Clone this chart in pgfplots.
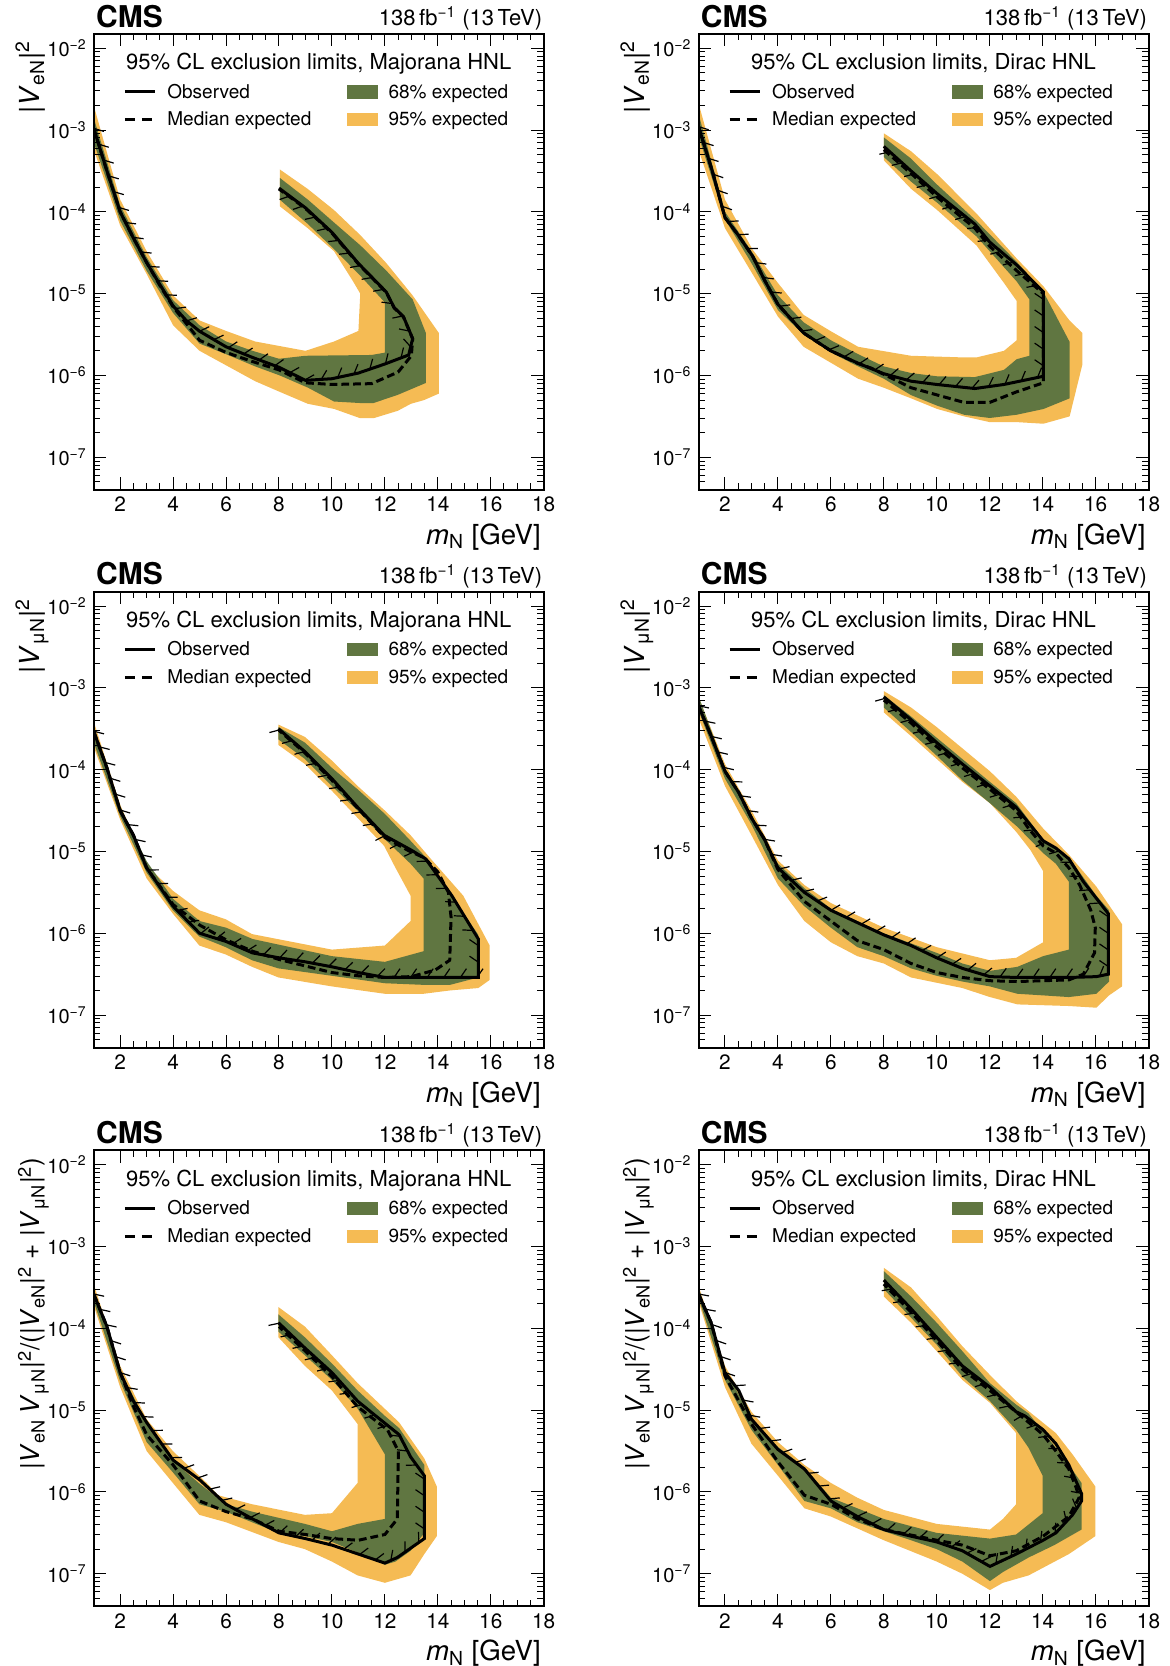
\documentclass[border=0pt]{standalone}
\usepackage{fontspec}
\setmainfont{TeX Gyre Heros}
\usepackage{pgfplots}
\pgfplotsset{compat=1.18}
\usetikzlibrary{decorations.markings}

\definecolor{band68}{HTML}{607641}
\definecolor{band95}{HTML}{F5BB54}

\tikzset{
  hatchline/.style={postaction={decorate, decoration={markings,
      mark=between positions 0 and 1 step 8.3pt with {\draw[black, line width=0.6pt, solid] (0pt,0pt) -- (3pt,4.4pt);}}}},
}

\pgfplotsset{
  band95/.style={draw=none, fill=band95, forget plot},
  band68/.style={draw=none, fill=band68, forget plot},
  median/.style={black, line width=1.5pt, dash pattern=on 3.9pt off 2pt, forget plot},
  observed/.style={black, line width=1.5pt, forget plot, hatchline},
  hnl/.style={
    scale only axis, width=225pt, height=228pt,
    xmin=1, xmax=18, ymin=4e-8, ymax=1.5e-2,
    axis on top,
    axis line style={line width=1pt},
    tick style={black, line width=0.5pt},
    major tick length=6.3pt, minor tick length=3.2pt,
    xtick={2,4,...,18}, minor x tick num=3,
    ytick={1e-7,1e-6,1e-5,1e-4,1e-3,1e-2},
    yticklabels={10\textsuperscript{−7},10\textsuperscript{−6},10\textsuperscript{−5},10\textsuperscript{−4},10\textsuperscript{−3},10\textsuperscript{−2}},
    minor ytick={5e-8,6e-8,7e-8,8e-8,9e-8,2e-7,3e-7,4e-7,5e-7,6e-7,7e-7,8e-7,9e-7,2e-6,3e-6,4e-6,5e-6,6e-6,7e-6,8e-6,9e-6,2e-5,3e-5,4e-5,5e-5,6e-5,7e-5,8e-5,9e-5,2e-4,3e-4,4e-4,5e-4,6e-4,7e-4,8e-4,9e-4,2e-3,3e-3,4e-3,5e-3,6e-3,7e-3,8e-3,9e-3},
    /pgf/number format/assume math mode=true,
    tick label style={font=\fontsize{10}{12}\selectfont},
    xticklabel style={font=\fontsize{10.4}{12}\selectfont},
    xlabel={\textit{m}\textsubscript{N} [GeV]},
    label style={font=\fontsize{13.8}{15}\selectfont},
    xlabel style={at={(axis description cs:1,0)}, anchor=base east, inner sep=0pt, yshift=-27.2pt, xshift=-1.3pt},
    ylabel style={at={(axis description cs:-0.12,1)}, anchor=base east},
    legend columns=2, legend cell align=left,
    legend style={draw=none, fill=none, inner sep=0pt, outer sep=0pt,
      at={(0.066,0.893)}, anchor=north west,
      font=\fontsize{9.5}{11}\selectfont, row sep=4.7pt,
      nodes={inner sep=0pt},
      /tikz/every odd column/.style={column sep=5.5pt},
      /tikz/every even column/.style={column sep=0pt}},
  },
  longlabel/.style={ylabel style={font=\fontsize{13}{15}\selectfont}},
}

\newcommand{\hnllegend}{%
  \addlegendimage{legend image code/.code={\draw[black, line width=1.5pt] (0pt,0pt) -- (15pt,0pt);}}
  \addlegendentry{\makebox[90pt][l]{\strut Observed}}
  \addlegendimage{legend image code/.code={\fill[band68] (0pt,-3.1pt) rectangle (14.7pt,3.1pt);}}
  \addlegendentry{\strut 68\% expected}
  \addlegendimage{legend image code/.code={\draw[black, line width=1.5pt, dash pattern=on 5.3pt off 3.2pt] (0pt,0pt) -- (15pt,0pt);}}
  \addlegendentry{\makebox[90pt][l]{\strut Median expected}}
  \addlegendimage{legend image code/.code={\fill[band95] (0pt,-3.1pt) rectangle (14.7pt,3.1pt);}}
  \addlegendentry{\strut 95\% expected}
}

% CMS label, luminosity and legend header around a named axis
\newcommand{\hnltext}[2]{%
  \node[anchor=base west, inner sep=0pt, font=\bfseries\fontsize{15}{17}\selectfont, xshift=1pt, yshift=3.4pt] at (#1.north west) {CMS};
  \node[anchor=base east, inner sep=0pt, font=\fontsize{11}{13}\selectfont, xshift=-0.6pt, yshift=4pt] at (#1.north east) {138\,fb\textsuperscript{−1} (13\,TeV)};
  \node[anchor=base, inner sep=0pt, font=\fontsize{11}{13}\selectfont, yshift=-18pt] at (#1.north) {95\% CL exclusion limits, #2 HNL};
}

\begin{document}
\begin{tikzpicture}
\useasboundingbox (0pt,0pt) rectangle (584.5pt,-833pt);

% ---- Majorana, V_eN
\begin{semilogyaxis}[hnl, name=p1, at={(46.85pt,-16.9pt)}, anchor=north west,
  ylabel={|\textit{V}\textsubscript{eN}|\textsuperscript{2}}]
\addplot[band95] coordinates {(1,2.0e-3) (2,1.41e-4) (3,3.3e-5) (4,9.5e-6) (5,4.7e-6) (6,3.5e-6) (7.1,2.6e-6) (9,2.0e-6) (10.08,2.6e-6) (11,3.5e-6) (11.07,1.0e-5) (10.8,1.41e-5) (10.08,3.3e-5) (9.09,6.3e-5) (8.03,1.17e-4) (8.03,3.3e-4) (9.09,1.9e-4) (10.08,1.05e-4) (11.07,5.2e-5) (12.06,2.35e-5) (13.05,9.5e-6) (14.04,3.3e-6) (14.04,6.0e-7) (13.48,5.0e-7) (12.98,4.5e-7) (12.49,3.7e-7) (11.57,3.0e-7) (11.07,3.0e-7) (10.08,3.9e-7) (9.09,4.5e-7) (8.03,6.3e-7) (7.1,8.5e-7) (5,2.0e-6) (4,4.1e-6) (3,1.74e-5) (2,6.8e-5) (1,5.8e-4)};
\addplot[band68] coordinates {(1,1.41e-3) (2,1.2e-4) (3,2.8e-5) (4,8.3e-6) (5,4.1e-6) (6,2.6e-6) (7,2.0e-6) (8,1.6e-6) (9,1.74e-6) (11.5,1.78e-6) (12,1.9e-6) (12,7.8e-6) (11.07,1.66e-5) (10.08,3.5e-5) (9.09,7.1e-5) (8.03,1.41e-4) (8.03,2.6e-4) (9.09,1.41e-4) (10.08,7.4e-5) (11.07,3.9e-5) (12.06,1.9e-5) (13.05,8.5e-6) (13.55,3.3e-6) (13.55,8.1e-7) (12.49,5.8e-7) (11.57,4.6e-7) (11.07,4.6e-7) (10.08,4.8e-7) (9.09,7.1e-7) (8.03,1.0e-6) (7.1,1.29e-6) (6,1.82e-6) (5,2.45e-6) (4,5.8e-6) (3,1.9e-5) (2,7.8e-5) (1,7.1e-4)};
\addplot[median] coordinates {(1,1.05e-3) (1.5,3.16e-4) (2,1e-4) (2.5,4.79e-5) (3,2.4e-5) (3.5,1.26e-5) (4,6.9e-6) (5,2.69e-6) (6,1.91e-6) (7,1.48e-6) (8,1.17e-6) (9,8.13e-7) (10,7.76e-7) (11.5,7.94e-7) (12.5,1.1e-6) (13,1.74e-6) (13.05,2.8e-6) (12.7,5.2e-6) (12.35,6.7e-6) (12.05,1.04e-5) (11,2.3e-5) (10,5.5e-5) (9,1.1e-4) (8,1.9e-4)};
\addplot[observed] coordinates {(1,1.05e-3) (1.5,3.16e-4) (2,1e-4) (2.5,4.79e-5) (3,2.4e-5) (3.5,1.29e-5) (4,7.08e-6) (4.5,4.68e-6) (5,3.47e-6) (6,2.24e-6) (7,1.66e-6) (8,1.26e-6) (9,8.71e-7) (10,9.12e-7) (11,1.07e-6) (12,1.38e-6) (12.9,1.78e-6) (13.05,2.82e-6) (12.7,5.25e-6) (12.35,6.76e-6) (12.05,1.05e-5) (11,2.34e-5) (10,5.62e-5) (9,1.12e-4) (8,1.95e-4)};
\hnllegend
\end{semilogyaxis}
\hnltext{p1}{Majorana}

% ---- Dirac, V_eN
\begin{semilogyaxis}[hnl, name=p2, at={(349.25pt,-16.9pt)}, anchor=north west,
  ylabel={|\textit{V}\textsubscript{eN}|\textsuperscript{2}}]
\addplot[band95] coordinates {(1,2.14e-3) (2,1.41e-4) (3.04,3.47e-5) (4,1.35e-5) (4.97,5.5e-6) (6,3.47e-6) (7.03,2.24e-6) (9.03,1.74e-6) (11.03,1.66e-6) (11.5,1.66e-6) (12.54,2.0e-6) (13.02,2.69e-6) (13.02,8.13e-6) (12.54,1.35e-5) (11.5,3.89e-5) (10.02,1.05e-4) (9.03,1.91e-4) (8,4.27e-4) (8,9.12e-4) (9.03,5.5e-4) (10.02,2.88e-4) (11.5,9.55e-5) (13.02,2.69e-5) (14.03,1.23e-5) (15.02,4.68e-6) (15.5,3.31e-6) (15.5,1.35e-6) (15.02,3.16e-7) (14.03,2.57e-7) (13.02,2.69e-7) (12,2.69e-7) (11.03,3.16e-7) (10.02,3.89e-7) (9.03,5.25e-7) (8,7.08e-7) (7.03,9.12e-7) (4.97,2.24e-6) (4,5.25e-6) (3.04,1.74e-5) (2,6.31e-5) (1,5.75e-4)};
\addplot[band68] coordinates {(1,1.58e-3) (2,1e-4) (3.04,3.16e-5) (4,9.55e-6) (4.97,4.47e-6) (6,2.69e-6) (7.03,1.82e-6) (8,1.29e-6) (9.03,1.07e-6) (10,9.77e-7) (11.44,9.55e-7) (12.54,1.17e-6) (13.02,1.58e-6) (13.5,1.74e-6) (13.5,8.51e-6) (13.02,1.41e-5) (11.5,5.01e-5) (10.02,1.29e-4) (9.03,2.34e-4) (8,4.68e-4) (8,8.13e-4) (9.03,4.47e-4) (10.02,2.14e-4) (11.5,7.76e-5) (13.02,2.45e-5) (14.03,1.05e-5) (15.02,2.57e-6) (15.02,5.25e-7) (14.03,3.89e-7) (13.02,3.31e-7) (12,3.02e-7) (11.03,3.31e-7) (10.02,4.27e-7) (9.03,5.75e-7) (8,9.12e-7) (7.03,1.29e-6) (6,1.91e-6) (4.97,3.16e-6) (4,6.31e-6) (3.04,2.24e-5) (2,8.13e-5) (1,8.51e-4)};
\addplot[median] coordinates {(1,1.1e-3) (1.52,3.16e-4) (2,8.5e-5) (2.49,5.25e-5) (3.04,2.88e-5) (3.52,1.41e-5) (4,7.4e-6) (4.97,3.3e-6) (6,2.0e-6) (7.03,1.4e-6) (7.52,1.23e-6) (9.03,7.08e-7) (11.03,4.68e-7) (12,4.68e-7) (13.02,6.31e-7) (14.03,8.13e-7) (14.03,1e-5) (13.02,1.91e-5) (12,3.8e-5) (11.44,6.31e-5) (10.02,1.51e-4) (9.03,2.95e-4) (8,5.75e-4)};
\addplot[observed] coordinates {(1,1.1e-3) (1.52,3.16e-4) (2,8.51e-5) (2.49,5.25e-5) (3.04,2.88e-5) (3.52,1.41e-5) (4,7.41e-6) (4.97,3.31e-6) (6,2.0e-6) (7.03,1.41e-6) (8,1.05e-6) (9.03,8.51e-7) (10,7.76e-7) (11.44,6.92e-7) (12.54,7.76e-7) (14.03,9.77e-7) (14.03,1.05e-5) (13.02,2.24e-5) (12,4.27e-5) (11.44,7.08e-5) (10.02,1.66e-4) (9.03,3.16e-4) (8,6.31e-4)};
\hnllegend
\end{semilogyaxis}
\hnltext{p2}{Dirac}

% ---- Majorana, V_muN
\begin{semilogyaxis}[hnl, name=p3, at={(46.85pt,-295.8pt)}, anchor=north west,
  ylabel={|\textit{V}\textsubscript{μN}|\textsuperscript{2}}]
\addplot[band95] coordinates {(1,3.89e-4) (2,3.72e-5) (3,6.76e-6) (3.99,3.31e-6) (4.99,1.91e-6) (5.99,1.48e-6) (6.98,9.77e-7) (10,6.31e-7) (12,7.08e-7) (12.97,1.41e-6) (12.97,2.88e-6) (12.4,6.31e-6) (11.97,1.17e-5) (10.97,2.57e-5) (10,5.5e-5) (8.98,1.17e-4) (7.98,2.0e-4) (7.98,3.55e-4) (8.98,2.51e-4) (10,1.29e-4) (10.97,6.31e-5) (12,3.16e-5) (12.97,1.58e-5) (13.68,8.51e-6) (14.96,2.88e-6) (15.96,7.08e-7) (15.96,2.69e-7) (15.53,2.14e-7) (14.46,2.0e-7) (13.46,1.82e-7) (12,1.82e-7) (10,2.24e-7) (7.98,2.88e-7) (6.98,3.89e-7) (5.99,5.5e-7) (4.99,7.08e-7) (3.99,1.74e-6) (3,4.68e-6) (2,2.45e-5) (1,1.91e-4)};
\addplot[band68] coordinates {(1,3.31e-4) (2,3.55e-5) (3,7.59e-6) (4,2.63e-6) (5,1.41e-6) (6,1.17e-6) (7,8.51e-7) (10,5.25e-7) (12,4.47e-7) (13.46,6.03e-7) (13.46,4.68e-6) (12.97,7.08e-6) (12,1.41e-5) (10.97,3.16e-5) (10,6.31e-5) (8.98,1.35e-4) (7.98,2.34e-4) (7.98,3.31e-4) (8.98,2.14e-4) (10,1.05e-4) (10.97,5.75e-5) (12,2.88e-5) (12.97,1.35e-5) (13.54,8.51e-6) (14.53,2.88e-6) (15.53,9.55e-7) (15.53,2.88e-7) (14.46,2.34e-7) (13.46,2.34e-7) (12,2.45e-7) (10,3.02e-7) (7.98,3.72e-7) (6.98,4.68e-7) (5.99,6.76e-7) (4.99,9.12e-7) (3.99,1.91e-6) (3,5.5e-6) (2,2.69e-5) (1,2.14e-4)};
\addplot[median] coordinates {(1,2.95e-4) (1.5,1.05e-4) (2,3.16e-5) (2.5,1.58e-5) (3,6.31e-6) (4,2.24e-6) (5,1.26e-6) (6,8.32e-7) (7,6.03e-7) (8,4.79e-7) (9,3.98e-7) (10,3.31e-7) (11,3.02e-7) (12,2.88e-7) (13,2.95e-7) (13.9,3.55e-7) (14.45,4.68e-7) (14.5,1.58e-6) (14.4,3.16e-6) (14,5.62e-6) (13.5,8.32e-6) (12.9,1.02e-5) (12,1.48e-5) (11,3.31e-5) (10,7.41e-5) (9,1.58e-4) (8,3.02e-4)};
\addplot[observed] coordinates {(1,2.95e-4) (1.5,1.05e-4) (2,3.16e-5) (2.5,1.58e-5) (3,6.31e-6) (4,2.14e-6) (5,1.0e-6) (6,7.94e-7) (7,5.75e-7) (8,5.01e-7) (9,4.47e-7) (10,3.89e-7) (11,3.31e-7) (12,2.88e-7) (13,2.88e-7) (15.53,2.88e-7) (15.53,8.51e-7) (14.53,2.88e-6) (13.54,8.13e-6) (12.97,1.05e-5) (11.97,1.58e-5) (10.97,3.47e-5) (10,7.76e-5) (8.98,1.66e-4) (7.98,3.16e-4)};
\hnllegend
\end{semilogyaxis}
\hnltext{p3}{Majorana}

% ---- Dirac, V_muN
\begin{semilogyaxis}[hnl, name=p4, at={(349.25pt,-295.8pt)}, anchor=north west,
  ylabel={|\textit{V}\textsubscript{μN}|\textsuperscript{2}}]
\addplot[band95] coordinates {(1,7.76e-4) (2,1.17e-4) (3,3.16e-5) (4,7.76e-6) (5,3.89e-6) (6,2.34e-6) (8,1.17e-6) (10,6.76e-7) (12.01,4.68e-7) (13,5.01e-7) (14.02,7.76e-7) (14.02,5.75e-6) (13.53,1.05e-5) (13,1.74e-5) (12.01,3.89e-5) (10.97,7.08e-5) (10,1.35e-4) (9.03,2.57e-4) (8,5.01e-4) (8,9.12e-4) (9.03,5.75e-4) (10,3.31e-4) (10.97,1.82e-4) (12.01,9.55e-5) (13,4.68e-5) (14.02,1.91e-5) (14.99,9.12e-6) (16.03,3.72e-6) (17,1.29e-6) (17,2.24e-7) (16.51,1.74e-7) (16.03,1.23e-7) (14.99,1.29e-7) (13.05,1.35e-7) (12.01,1.66e-7) (10.97,2.14e-7) (9.03,2.88e-7) (8,4.27e-7) (7,5.25e-7) (6,7.76e-7) (5,1.41e-6) (4,3.89e-6) (3,1.58e-5) (2,6.31e-5) (1,4.27e-4)};
\addplot[band68] coordinates {(1,7.94e-4) (2,1.05e-4) (3,2.82e-5) (4,7.08e-6) (5,3.55e-6) (6,2.0e-6) (8,1.0e-6) (10,5.75e-7) (10.97,4.27e-7) (12.01,3.47e-7) (13.05,3.89e-7) (14.02,5.25e-7) (14.99,6.31e-7) (14.99,4.27e-6) (14.5,7.08e-6) (14.02,9.55e-6) (13.05,2.0e-5) (12.01,3.89e-5) (10.97,7.41e-5) (10,1.48e-4) (9.03,2.88e-4) (8,5.75e-4) (8,8.13e-4) (9.03,4.47e-4) (10,2.45e-4) (12.01,7.08e-5) (13,3.89e-5) (14.02,1.41e-5) (14.99,8.51e-6) (16.03,2.88e-6) (16.51,1.91e-6) (16.51,2.57e-7) (16.03,1.82e-7) (14.99,1.66e-7) (14.02,1.74e-7) (13.05,1.82e-7) (12.01,2.24e-7) (10.97,2.57e-7) (10,3.02e-7) (9.03,3.72e-7) (8,5.25e-7) (7,6.76e-7) (6,1.17e-6) (5,2.14e-6) (4,4.68e-6) (3,2.14e-5) (2,7.76e-5) (1,5.25e-4)};
\addplot[median] coordinates {(1,6.03e-4) (1.48,2.57e-4) (2,9.55e-5) (2.52,5.25e-5) (3,2.57e-5) (3.49,1.41e-5) (4,6.03e-6) (5,2.45e-6) (6,1.41e-6) (7,8.13e-7) (8,6.31e-7) (9.03,4.27e-7) (10,3.31e-7) (10.97,2.88e-7) (12.01,2.63e-7) (13.05,2.57e-7) (14.02,2.63e-7) (14.99,2.69e-7) (15.54,3.16e-7) (15.96,5.75e-7) (15.99,1.17e-6) (15.82,1.91e-6) (15.4,3.89e-6) (14.99,6.31e-6) (14.5,9.55e-6) (14.02,1.17e-5) (13.47,1.91e-5) (13,3.16e-5) (12.01,5.75e-5) (10.97,1.05e-4) (10,1.91e-4) (9.03,3.72e-4) (8,7.08e-4)};
\addplot[observed] coordinates {(1,6.03e-4) (1.48,2.57e-4) (2,9.55e-5) (2.52,5.25e-5) (3,2.57e-5) (3.49,1.41e-5) (4,6.31e-6) (5,3.16e-6) (6,1.91e-6) (7,1.35e-6) (8,9.55e-7) (9.03,7.08e-7) (10,5.01e-7) (10.97,3.72e-7) (12.01,2.95e-7) (13.05,2.88e-7) (14.99,2.88e-7) (16.03,2.95e-7) (16.48,3.16e-7) (16.48,1.74e-6) (15.54,4.27e-6) (14.99,8.13e-6) (14.5,1.1e-5) (14.02,1.35e-5) (13.47,2.24e-5) (13,3.47e-5) (12.01,6.31e-5) (10.97,1.17e-4) (10,2.14e-4) (9.03,4.07e-4) (8,7.76e-4)};
\hnllegend
\end{semilogyaxis}
\hnltext{p4}{Dirac}

% ---- Majorana, V_eN V_muN
\begin{semilogyaxis}[hnl, longlabel, name=p5, at={(46.85pt,-575.15pt)}, anchor=north west,
  ylabel={|\textit{V}\textsubscript{eN}\,\textit{V}\textsubscript{μN}|\textsuperscript{2}/(|\textit{V}\textsubscript{eN}|\textsuperscript{2} + |\textit{V}\textsubscript{μN}|\textsuperscript{2})}]
\addplot[band95] coordinates {(1,3.47e-4) (2,3.47e-5) (3,7.76e-6) (3.99,3.16e-6) (5.27,1.29e-6) (5.7,9.12e-7) (6.98,7.08e-7) (8.98,5.25e-7) (10,5.5e-7) (10.97,1.29e-6) (10.97,6.76e-6) (10,1.74e-5) (8.98,3.47e-5) (7.98,7.76e-5) (7.98,1.82e-4) (8.98,1.05e-4) (10,4.68e-5) (10.97,2.14e-5) (12.54,7.08e-6) (13.49,2.57e-6) (13.96,1.17e-6) (13.96,2.88e-7) (13.49,1.74e-7) (12.97,9.55e-8) (12,7.76e-8) (10.97,9.55e-8) (10,1.41e-7) (8.98,2.0e-7) (7.98,2.45e-7) (5.99,4.27e-7) (4.99,5.25e-7) (3.99,1.29e-6) (3,3.16e-6) (2,1.91e-5) (1,1.91e-4)};
\addplot[band68] coordinates {(1,2.82e-4) (2,3.02e-5) (3,7.08e-6) (4,2.4e-6) (5,1.26e-6) (6,7.08e-7) (6.98,5.75e-7) (8.98,4.07e-7) (10,3.31e-7) (10.97,4.07e-7) (12,4.68e-7) (12,2.88e-6) (10.97,1.05e-5) (10,2.34e-5) (8.98,4.68e-5) (7.98,9.12e-5) (7.98,1.48e-4) (8.98,7.76e-5) (10,3.72e-5) (10.97,1.74e-5) (12,8.51e-6) (12.54,6.03e-6) (13.49,2.14e-6) (13.49,3.16e-7) (12.97,1.91e-7) (12.4,1.41e-7) (12,1.29e-7) (10.97,1.82e-7) (10,2.45e-7) (8.98,2.88e-7) (7.98,3.16e-7) (6.98,4.27e-7) (5.99,5.75e-7) (4.99,7.08e-7) (3.99,1.74e-6) (3,4.07e-6) (2,2.24e-5) (1,2.14e-4)};
\addplot[median] coordinates {(1,2.63e-4) (1.5,1.05e-4) (2,2.88e-5) (2.5,1.12e-5) (3,5.01e-6) (4,2.14e-6) (5,7.76e-7) (6,5.75e-7) (7,4.68e-7) (8,3.31e-7) (9,3.02e-7) (10,2.69e-7) (11,2.57e-7) (12,3.02e-7) (12.47,4.68e-7) (12.51,3.16e-6) (12.1,5.75e-6) (10.97,1.1e-5) (10,2.57e-5) (9,5.25e-5) (8,1.05e-4)};
\addplot[observed] coordinates {(1,2.63e-4) (1.5,1.05e-4) (2,2.88e-5) (2.5,1.29e-5) (3,7.08e-6) (4,2.45e-6) (5,1.41e-6) (6,7.08e-7) (7,4.68e-7) (8,3.16e-7) (9,2.69e-7) (10,2.24e-7) (11,1.74e-7) (12,1.35e-7) (12.47,1.58e-7) (13.49,2.69e-7) (13.49,1.58e-6) (12.97,2.69e-6) (12.54,5.01e-6) (11.54,9.12e-6) (10.97,1.29e-5) (10,2.88e-5) (8.98,5.75e-5) (7.98,1.17e-4)};
\hnllegend
\end{semilogyaxis}
\hnltext{p5}{Majorana}

% ---- Dirac, V_eN V_muN
\begin{semilogyaxis}[hnl, longlabel, name=p6, at={(349.25pt,-575.15pt)}, anchor=north west,
  ylabel={|\textit{V}\textsubscript{eN}\,\textit{V}\textsubscript{μN}|\textsuperscript{2}/(|\textit{V}\textsubscript{eN}|\textsuperscript{2} + |\textit{V}\textsubscript{μN}|\textsuperscript{2})}]
\addplot[band95] coordinates {(1,3.31e-4) (2,3.47e-5) (3,9.55e-6) (4,4.07e-6) (5,2.14e-6) (6,1.29e-6) (7,8.51e-7) (8,6.03e-7) (10,4.07e-7) (12.01,3.47e-7) (12.5,4.68e-7) (13,7.08e-7) (13,5.25e-6) (12.01,1.23e-5) (10.97,2.34e-5) (10,5.25e-5) (9.03,1.17e-4) (8,2.45e-4) (8,5.5e-4) (9.03,3.16e-4) (10,1.41e-4) (10.97,6.03e-5) (12.01,2.69e-5) (13,1.29e-5) (14.5,5.25e-6) (15.13,2.88e-6) (15.99,1.17e-6) (15.99,2.88e-7) (14.99,1.74e-7) (13.47,9.55e-8) (12.5,7.76e-8) (12.01,6.31e-8) (10.97,1.0e-7) (10,1.41e-7) (8,2.57e-7) (6,5.01e-7) (5,6.31e-7) (4,1.58e-6) (3,3.89e-6) (2,1.91e-5) (1,2.14e-4)};
\addplot[band68] coordinates {(1,3.16e-4) (2,3.16e-5) (3,7.94e-6) (4,3.55e-6) (5,2.0e-6) (6,8.51e-7) (8,4.68e-7) (10,3.16e-7) (12.01,2.69e-7) (13,3.02e-7) (14,5.5e-7) (14,1.58e-6) (13.47,3.47e-6) (13,5.75e-6) (12.01,1.29e-5) (10.97,2.57e-5) (10,6.31e-5) (9.03,1.35e-4) (8,3.02e-4) (8,5.01e-4) (9.03,2.45e-4) (10,1.17e-4) (10.97,5.25e-5) (12.01,2.14e-5) (13,1.17e-5) (13.47,9.12e-6) (14.5,3.47e-6) (14.99,2.14e-6) (15.47,1.29e-6) (15.47,3.47e-7) (14.44,2.24e-7) (13.47,1.58e-7) (12.5,1.05e-7) (12.01,8.13e-8) (10.97,1.41e-7) (10,2.0e-7) (9.03,2.57e-7) (8,3.31e-7) (7,4.27e-7) (6,6.31e-7) (5,7.76e-7) (4,2.14e-6) (3,5.75e-6) (2,2.34e-5) (1,2.34e-4)};
\addplot[median] coordinates {(1,2.63e-4) (1.48,1.17e-4) (2,2.63e-5) (3,6.76e-6) (4,2.34e-6) (5,9.12e-7) (6,7.08e-7) (7,4.68e-7) (8,3.47e-7) (10,2.57e-7) (10.97,2.24e-7) (12.01,1.66e-7) (13,1.91e-7) (14.02,2.88e-7) (14.99,5.01e-7) (15.38,8.51e-7) (15.27,1.12e-6) (14.99,1.91e-6) (14.5,3.16e-6) (14.02,5.01e-6) (13.33,7.76e-6) (12.01,1.74e-5) (10.97,3.16e-5) (10,7.08e-5) (9.03,1.58e-4) (8,3.47e-4)};
\addplot[observed] coordinates {(1,2.63e-4) (1.48,1.17e-4) (2,2.88e-5) (2.52,1.74e-5) (3,7.76e-6) (4,3.31e-6) (5,1.91e-6) (6,7.76e-7) (7,5.01e-7) (8,3.47e-7) (9.03,2.88e-7) (10,2.45e-7) (10.97,1.91e-7) (12.01,1.23e-7) (13,1.74e-7) (14.02,2.57e-7) (14.5,3.16e-7) (15.13,5.25e-7) (15.47,7.76e-7) (15.47,9.55e-7) (14.99,2.14e-6) (14.5,3.89e-6) (14.02,5.75e-6) (13.33,8.51e-6) (13,9.55e-6) (12.01,1.91e-5) (10.97,3.47e-5) (10,7.76e-5) (9.03,1.74e-4) (8,3.89e-4)};
\hnllegend
\end{semilogyaxis}
\hnltext{p6}{Dirac}
\end{tikzpicture}
\end{document}
